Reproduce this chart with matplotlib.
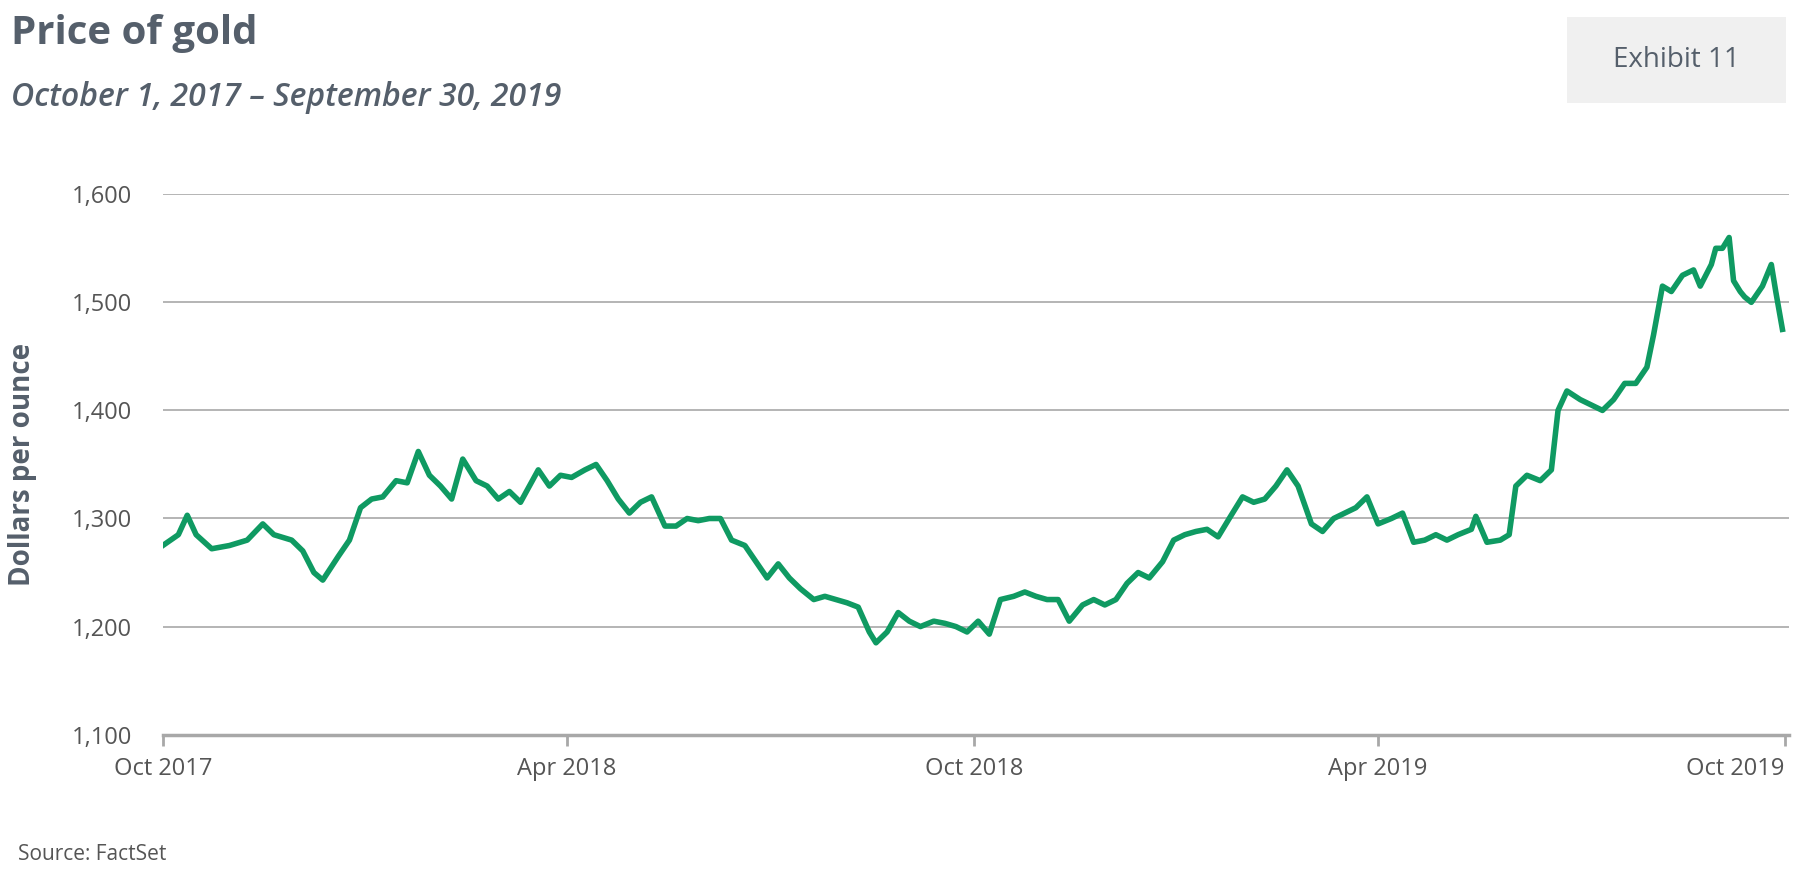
import datetime as dt
import matplotlib.pyplot as plt
import matplotlib.dates as mdates
from matplotlib.patches import Rectangle

# days since 2017-10-01, price of gold ($/oz)
day_offsets = [0, 7, 11, 15, 22, 30, 38, 45, 50, 58, 63, 68, 72, 79, 84, 89, 94, 99, 105, 110,
               115, 120, 125, 130, 135, 141, 146, 151, 156, 161, 169, 174, 179, 184, 190, 195, 200, 205, 210, 215,
               220, 226, 231, 236, 241, 246, 251, 256, 262, 267, 272, 277, 282, 287, 293, 298, 303, 308, 313, 318,
               321, 326, 331, 336, 341, 347, 352, 357, 362, 367, 372, 377, 383, 388, 393, 398, 403, 408, 414, 419,
               424, 429, 434, 439, 444, 450, 455, 460, 465, 470, 475, 480, 486, 491, 496, 501, 506, 511, 517, 522,
               527, 532, 537, 542, 547, 553, 558, 563, 568, 573, 578, 583, 589, 591, 596, 602, 606, 609, 614, 620,
               625, 628, 632, 638, 643, 648, 653, 658, 663, 668, 671, 675, 679, 684, 689, 692, 697, 699, 702, 705,
               707, 710, 712, 715, 720, 724, 726, 729]
prices = [1275, 1285, 1303, 1285, 1272, 1275, 1280, 1295, 1285, 1280, 1270, 1250, 1243, 1265, 1280, 1310, 1318, 1320, 1335, 1333,
          1362, 1340, 1330, 1318, 1355, 1335, 1330, 1318, 1325, 1315, 1345, 1330, 1340, 1338, 1345, 1350, 1335, 1318, 1305, 1315,
          1320, 1293, 1293, 1300, 1298, 1300, 1300, 1280, 1275, 1260, 1245, 1258, 1245, 1235, 1225, 1228, 1225, 1222, 1218, 1195,
          1185, 1195, 1213, 1205, 1200, 1205, 1203, 1200, 1195, 1205, 1193, 1225, 1228, 1232, 1228, 1225, 1225, 1205, 1220, 1225,
          1220, 1225, 1240, 1250, 1245, 1260, 1280, 1285, 1288, 1290, 1283, 1300, 1320, 1315, 1318, 1330, 1345, 1330, 1295, 1288,
          1300, 1305, 1310, 1320, 1295, 1300, 1305, 1278, 1280, 1285, 1280, 1285, 1290, 1302, 1278, 1280, 1285, 1330, 1340, 1335,
          1345, 1400, 1418, 1410, 1405, 1400, 1410, 1425, 1425, 1440, 1470, 1515, 1510, 1525, 1530, 1515, 1535, 1550, 1550, 1560,
          1520, 1510, 1505, 1500, 1515, 1535, 1510, 1475]
tick_labels = ["Oct 2017", "Apr 2018", "Oct 2018", "Apr 2019", "Oct 2019"]
tick_dates = [dt.date(2017, 10, 1), dt.date(2018, 4, 1), dt.date(2018, 10, 1),
              dt.date(2019, 4, 1), dt.date(2019, 10, 1)]

start = dt.date(2017, 10, 1)
dates = [start + dt.timedelta(days=d) for d in day_offsets]

plt.rcParams["font.family"] = "Open Sans"
fig = plt.figure(figsize=(17.97, 8.83), dpi=100)
ax = fig.add_axes([0.0906, 0.168, 0.905, 0.612])

ax.plot(dates, prices, color="#0f9a62", lw=4, solid_joinstyle="round")
ax.set_ylim(1100, 1600)
ax.set_xlim(dt.date(2017, 10, 1), dt.date(2019, 10, 3))
ax.set_yticks(range(1100, 1601, 100))
ax.set_yticklabels([f"{v:,}" for v in range(1100, 1601, 100)])
ax.set_xticks(tick_dates)
ax.set_xticklabels(tick_labels)
ax.get_xticklabels()[-1].set_ha("right")
ax.get_xticklabels()[-1].set_x(0)
ax.grid(axis="y", color="#a8a8a8", lw=1.2)
ax.set_axisbelow(True)
for s in ["top", "right", "left"]:
    ax.spines[s].set_visible(False)
ax.spines["bottom"].set_color("#a8a8a8")
ax.spines["bottom"].set_linewidth(2.5)
ax.tick_params(axis="y", length=0, labelsize=17, labelcolor="#555555", pad=22)
ax.tick_params(axis="x", length=8, width=2, color="#a8a8a8", labelsize=17,
               labelcolor="#555555", pad=8)
ax.set_ylabel("Dollars per ounce", fontsize=20, fontweight="bold", color="#555f6b", labelpad=25)

fig.text(0.006, 0.962, "Price of gold", fontsize=29, fontweight="bold", color="#555f6b", va="center")
fig.text(0.006, 0.89, "October 1, 2017 – September 30, 2019", fontsize=23, style="italic",
         fontweight="semibold", color="#555f6b", va="center")
fig.patches.append(Rectangle((0.872, 0.883), 0.122, 0.098, transform=fig.transFigure,
                             facecolor="#f0f0f0", edgecolor="none"))
fig.text(0.933, 0.932, "Exhibit 11", fontsize=20, color="#555f6b", ha="center", va="center")
fig.text(0.01, 0.032, "Source: FactSet", fontsize=15, color="#555555", va="center")

fig.savefig("out.png", dpi=100)
